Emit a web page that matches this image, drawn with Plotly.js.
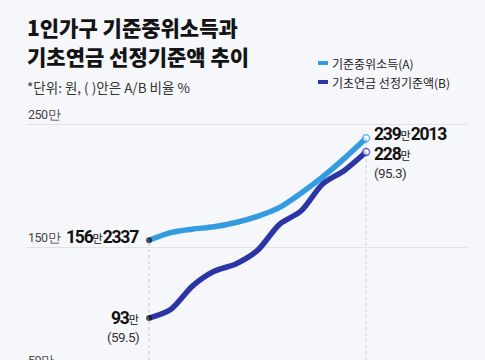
<!DOCTYPE html>
<html>
<head>
<meta charset="utf-8">
<script src="https://cdn.plot.ly/plotly-3.0.1.min.js"></script>
<style>
  html, body { margin: 0; padding: 0; background: #f6f7fa; }
  #chart { width: 485px; height: 360px; }
</style>
</head>
<body>
<div id="chart"></div>
<script>
// ---- data (won) ----
const years = [2015, 2016, 2017, 2018, 2019, 2020, 2021, 2022, 2023, 2024, 2025];
const medianIncomeWon = [1562337, 1624831, 1652931, 1672105, 1707008, 1757194, 1827831, 1944812, 2077892, 2228445, 2392013];
const pensionThresholdWon = [930000, 1000000, 1190000, 1310000, 1370000, 1480000, 1690000, 1800000, 2020000, 2130000, 2280000];
const seriesNames = ['기준중위소득(A)', '기초연금 선정기준액(B)'];
const yTickVals = [50, 150, 250];
const yTickText = ['50만', '150만', '250만'];
const titleLines = ['1인가구 기준중위소득과', '기초연금 선정기준액 추이'];
const subtitle = '*단위: 원, ( )안은 A/B 비율 %';

// ---- styles ----
const W = 485, H = 360;
const M = {l: 27, r: 18, t: 100, b: 0};
const colA = '#349be0', colB = '#2b35a6';
const KR = '"Noto Sans CJK KR", "Noto Sans", sans-serif';
const NUM = 'Roboto, "Liberation Sans", Arial, sans-serif';
const xRange = [2009.38, 2029.65];
const yRange = [58.9, 270.3];

const toMan = v => v / 10000;
const A = medianIncomeWon.map(toMan);
const B = pensionThresholdWon.map(toMan);
const n = years.length;

const tight = 'letter-spacing:-1.2px';
function fmtWon(v) {
  const man = Math.floor(v / 10000), rest = v % 10000;
  return '<span style="' + tight + ';font-weight:bold">' + man + '</span>' +
         '<span style="font-size:11px;letter-spacing:0px;font-weight:normal;font-family:\'Noto Sans CJK KR\'">만</span>' +
         (rest ? '<span style="' + tight + ';font-weight:bold">' + rest + '</span>' : '');
}
const ratio = i => '<span style="letter-spacing:-0.6px">(' + (pensionThresholdWon[i] / medianIncomeWon[i] * 100).toFixed(1) + ')</span>';

// pixel -> paper helpers (for decorations outside plot area)
const pw = W - M.l - M.r, ph = H - M.t - M.b;
const px = x => (x - M.l) / pw;
const py = y => (H - M.b - y) / ph;
const vToPaper = v => (v - yRange[0]) / (yRange[1] - yRange[0]);

const traces = [
  {x: years, y: A, name: seriesNames[0], type: 'scatter', mode: 'lines',
   line: {color: colA, width: 5.5, shape: 'spline', smoothing: 0.8}, cliponaxis: false, hoverinfo: 'skip'},
  {x: years, y: B, name: seriesNames[1], type: 'scatter', mode: 'lines',
   line: {color: colB, width: 5.5, shape: 'spline', smoothing: 0.8}, cliponaxis: false, hoverinfo: 'skip'}
];
const markerTraces = [A, B].map((arr, k) => ({
  x: [years[0], years[n - 1]], y: [arr[0], arr[n - 1]], type: 'scatter', mode: 'markers',
  marker: {size: [6, 7], color: ['#111', '#fff'], line: {color: ['#111', k ? colB : colA], width: [0, 1.5]}},
  cliponaxis: false, hoverinfo: 'skip', showlegend: false
}));

const shapes = [
  {type: 'line', xref: 'x', yref: 'paper', x0: years[0], x1: years[0], y0: 0, y1: vToPaper(A[0]), line: {color: '#c8c8cc', width: 1, dash: 'dot'}, layer: 'below'},
  {type: 'line', xref: 'x', yref: 'paper', x0: years[n - 1], x1: years[n - 1], y0: 0, y1: vToPaper(A[n - 1]), line: {color: '#c8c8cc', width: 1, dash: 'dot'}, layer: 'below'},
  // legend swatches
  {type: 'rect', xref: 'paper', yref: 'paper', x0: px(318), x1: px(328), y0: py(65), y1: py(61), fillcolor: colA, line: {width: 0}},
  {type: 'rect', xref: 'paper', yref: 'paper', x0: px(318), x1: px(328), y0: py(84), y1: py(80), fillcolor: colB, line: {width: 0}}
];

const annotations = [];
const ann = o => annotations.push(Object.assign({showarrow: false, borderpad: 0}, o));
// titles
ann({xref: 'paper', yref: 'paper', x: px(26), y: py(27), xanchor: 'left', yanchor: 'middle',
  text: titleLines[0], font: {family: KR, size: 21, color: '#141414', weight: 900}});
ann({xref: 'paper', yref: 'paper', x: px(26), y: py(56), xanchor: 'left', yanchor: 'middle',
  text: titleLines[1], font: {family: KR, size: 21, color: '#141414', weight: 900}});
ann({xref: 'paper', yref: 'paper', x: px(26), y: py(87), xanchor: 'left', yanchor: 'middle',
  text: subtitle, font: {family: KR, size: 13.5, color: '#333'}});
// legend text
ann({xref: 'paper', yref: 'paper', x: px(331), y: py(63), xanchor: 'left', yanchor: 'middle',
  text: seriesNames[0], font: {family: KR, size: 12, color: '#222'}});
ann({xref: 'paper', yref: 'paper', x: px(331), y: py(82), xanchor: 'left', yanchor: 'middle',
  text: seriesNames[1], font: {family: KR, size: 12, color: '#222'}});
// y tick labels (above gridlines)
yTickVals.forEach((v, i) => {
  ann({xref: 'paper', yref: 'paper', x: 0, y: vToPaper(v), xanchor: 'left', yanchor: 'middle', yshift: 10,
    text: '<span style="letter-spacing:-0.5px">' + yTickText[i] + '</span>', font: {family: NUM, size: 12.5, color: '#444'}});
});
// data labels
ann({xref: 'x', yref: 'y', x: years[0], y: A[0], xanchor: 'right', yanchor: 'middle', xshift: -9, yshift: 3,
  text: fmtWon(medianIncomeWon[0]), font: {family: NUM, size: 17.5, color: '#111'}});
ann({xref: 'x', yref: 'y', x: years[0], y: B[0], xanchor: 'right', yanchor: 'middle', xshift: -9, yshift: 0,
  text: fmtWon(pensionThresholdWon[0]), font: {family: NUM, size: 17.5, color: '#111'}});
ann({xref: 'x', yref: 'y', x: years[0], y: B[0], xanchor: 'right', yanchor: 'middle', xshift: -9, yshift: -19,
  text: ratio(0), font: {family: NUM, size: 13.5, color: '#333'}});
ann({xref: 'x', yref: 'y', x: years[n - 1], y: A[n - 1], xanchor: 'left', yanchor: 'middle', xshift: 7, yshift: 4,
  text: fmtWon(medianIncomeWon[n - 1]), font: {family: NUM, size: 17.5, color: '#111'}});
ann({xref: 'x', yref: 'y', x: years[n - 1], y: B[n - 1], xanchor: 'left', yanchor: 'middle', xshift: 7, yshift: -2,
  text: fmtWon(pensionThresholdWon[n - 1]), font: {family: NUM, size: 17.5, color: '#111'}});
ann({xref: 'x', yref: 'y', x: years[n - 1], y: B[n - 1], xanchor: 'left', yanchor: 'middle', xshift: 7, yshift: -21,
  text: ratio(n - 1), font: {family: NUM, size: 13.5, color: '#333'}});

const layout = {
  width: W, height: H,
  margin: M,
  paper_bgcolor: '#f6f7fa', plot_bgcolor: '#f6f7fa',
  showlegend: false,
  xaxis: {range: xRange, visible: false, fixedrange: true},
  yaxis: {range: yRange, tickvals: yTickVals, showticklabels: false, showgrid: true, gridcolor: '#e2e2e6', gridwidth: 1,
          zeroline: false, showline: false, ticks: '', fixedrange: true},
  shapes: shapes,
  annotations: annotations
};

Plotly.newPlot('chart', traces.concat(markerTraces), layout, {displayModeBar: false, staticPlot: true});
</script>
</body>
</html>
